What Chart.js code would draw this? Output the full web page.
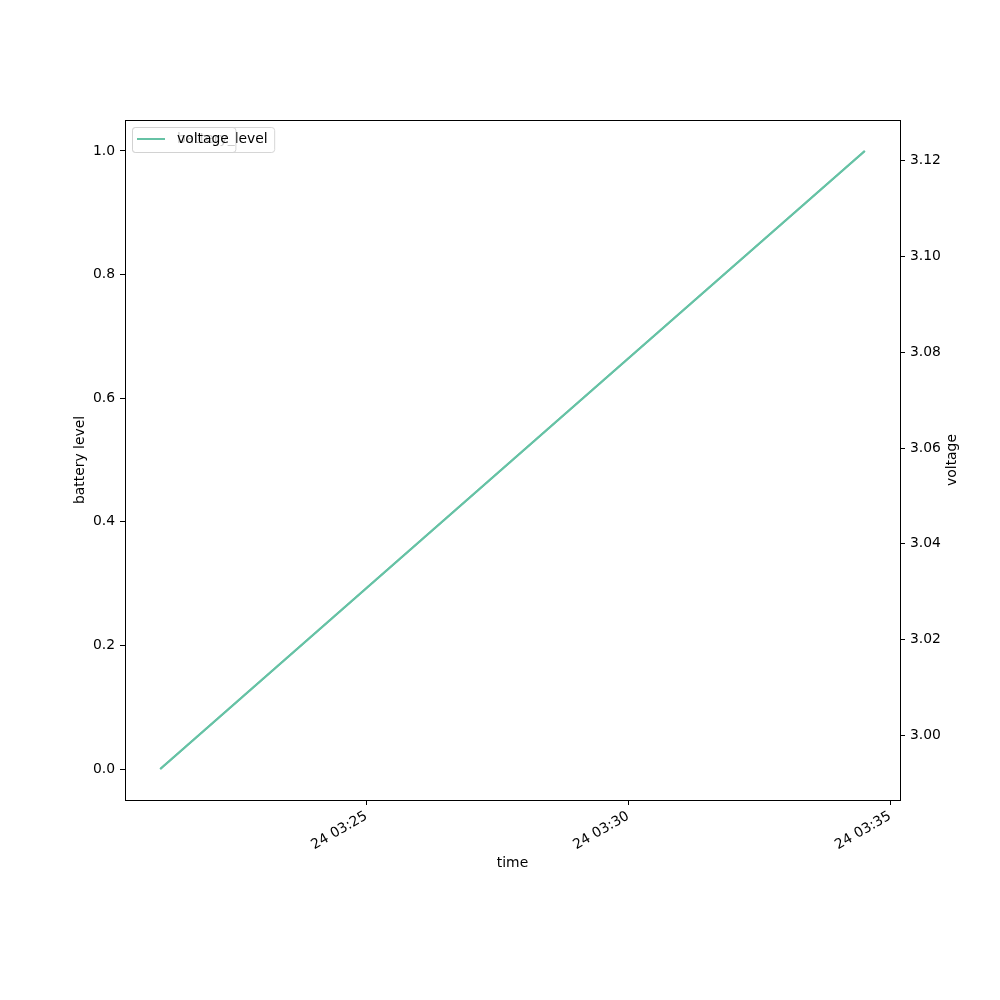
<!DOCTYPE html>
<html>
<head>
<meta charset="utf-8">
<script src="https://cdn.jsdelivr.net/npm/chart.js"></script>
<style>
  html, body { margin: 0; padding: 0; background: #fff; }
  #wrap { width: 1000px; height: 1000px; }
</style>
</head>
<body>
<div id="wrap"><canvas id="chart" width="1000" height="1000"></canvas></div>
<script>
// data
const times = ["03:21:04", "03:34:31"];
const batteryLevel = [0.0, 1.0];
const voltage = [2.993, 3.122];

const timeTicks = ["03:25", "03:30", "03:35"];
const batteryTicks = [0.0, 0.2, 0.4, 0.6, 0.8, 1.0];
const voltageTicks = [3.0, 3.02, 3.04, 3.06, 3.08, 3.1, 3.12];

const lineColor = "#66c2a5";
const font = { family: "'DejaVu Sans'", size: 13.9 };

function toSec(t) {
  const p = t.split(":").map(Number);
  return p[0] * 3600 + p[1] * 60 + (p[2] || 0);
}
function fmtTime(s) {
  const h = Math.floor(s / 3600), m = Math.round((s % 3600) / 60);
  return "24 " + String(h).padStart(2, "0") + ":" + String(m).padStart(2, "0");
}
// matplotlib-like 5% margins
function padRange(arr) {
  const lo = Math.min(...arr), hi = Math.max(...arr), m = (hi - lo) * 0.05;
  return { min: lo - m, max: hi + m };
}

const xs = times.map(toSec);
const xr = padRange(xs), br = padRange(batteryLevel), vr = padRange(voltage);

function fixedTicks(values) {
  return (scale) => { scale.ticks = values.map((v) => ({ value: v })); };
}

const tickGrid = { drawOnChartArea: false, drawTicks: true, tickLength: 5, color: "#000" };

const frameAndLabels = {
  id: "frameAndLabels",
  afterDraw(chart) {
    const { ctx, chartArea: a } = chart;
    ctx.save();
    ctx.strokeStyle = "#000";
    ctx.lineWidth = 1;
    ctx.strokeRect(a.left + 0.5, a.top + 0.5, a.right - a.left, a.bottom - a.top);

    ctx.fillStyle = "#000";
    ctx.font = font.size + "px " + font.family;
    ctx.textAlign = "center";
    ctx.textBaseline = "middle";
    ctx.fillText("time", (a.left + a.right) / 2, 863);

    const cy = (a.top + a.bottom) / 2;
    ctx.save();
    ctx.translate(80, cy);
    ctx.rotate(-Math.PI / 2);
    ctx.fillText("battery level", 0, 0);
    ctx.restore();
    ctx.save();
    ctx.translate(952, cy);
    ctx.rotate(-Math.PI / 2);
    ctx.fillText("voltage", 0, 0);
    ctx.restore();

    // two overlapping legends, like the twin axes in the original
    function legend(label) {
      const x = 132.5, y = 127.5, h = 25, tx = 177;
      ctx.font = font.size + "px " + font.family;
      const w = tx + ctx.measureText(label).width + 7 - x;
      ctx.beginPath();
      ctx.roundRect(x, y, w, h, 3);
      ctx.fillStyle = "rgba(255,255,255,0.8)";
      ctx.fill();
      ctx.strokeStyle = "rgba(204,204,204,0.8)";
      ctx.lineWidth = 1;
      ctx.stroke();
      ctx.beginPath();
      ctx.moveTo(137, 139);
      ctx.lineTo(165, 139);
      ctx.strokeStyle = lineColor;
      ctx.lineWidth = 2;
      ctx.stroke();
      ctx.fillStyle = "#000";
      ctx.textAlign = "left";
      ctx.textBaseline = "middle";
      ctx.fillText(label, tx, 139);
    }
    legend("battery_level");
    legend("voltage");
    ctx.restore();
  },
};

new Chart(document.getElementById("chart"), {
  type: "line",
  data: {
    datasets: [
      {
        label: "battery_level",
        data: xs.map((x, i) => ({ x: x, y: batteryLevel[i] })),
        borderColor: lineColor,
        borderWidth: 2,
        pointRadius: 0,
        yAxisID: "y",
        order: 2,
      },
      {
        label: "voltage",
        data: xs.map((x, i) => ({ x: x, y: voltage[i] })),
        borderColor: lineColor,
        borderWidth: 2,
        pointRadius: 0,
        yAxisID: "y2",
        order: 1,
      },
    ],
  },
  options: {
    responsive: false,
    animation: false,
    layout: { padding: { top: 120, left: 0, right: 0, bottom: 0 } },
    plugins: {
      legend: { display: false },
      tooltip: { enabled: false },
    },
    scales: {
      x: {
        type: "linear",
        min: xr.min,
        max: xr.max,
        afterBuildTicks: fixedTicks(timeTicks.map(toSec)),
        afterFit: (s) => { s.height = 200; },
        grid: tickGrid,
        border: { display: true, color: "#000" },
        ticks: {
          color: "#000",
          font: font,
          padding: 3,
          autoSkip: false,
          minRotation: 30,
          maxRotation: 30,
          callback: (v) => fmtTime(v),
        },
      },
      y: {
        position: "left",
        min: br.min,
        max: br.max,
        afterBuildTicks: fixedTicks(batteryTicks),
        afterFit: (s) => { s.width = 125; },
        grid: tickGrid,
        border: { display: true, color: "#000" },
        ticks: { color: "#000", font: font, padding: 5, callback: (v) => v.toFixed(1) },
      },
      y2: {
        position: "right",
        min: vr.min,
        max: vr.max,
        afterBuildTicks: fixedTicks(voltageTicks),
        afterFit: (s) => { s.width = 100; },
        grid: tickGrid,
        border: { display: true, color: "#000" },
        ticks: { color: "#000", font: font, padding: 5, callback: (v) => v.toFixed(2) },
      },
    },
  },
  plugins: [frameAndLabels],
});
</script>
</body>
</html>
